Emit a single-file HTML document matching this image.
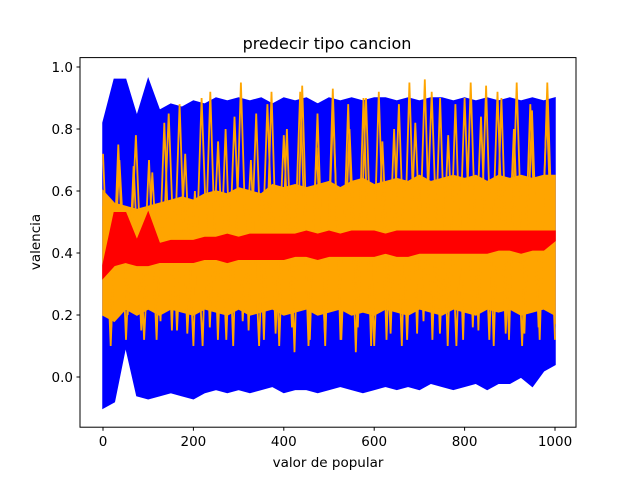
<!DOCTYPE html>
<html><head><meta charset="utf-8"><style>
body{margin:0;background:#fff}
svg{display:block;font-family:"DejaVu Sans","Liberation Sans",sans-serif}
</style></head><body>
<svg id="chart" width="640" height="480">
<rect width="640" height="480" fill="#fff"/>
<text x="327" y="49" font-size="16" text-anchor="middle">predecir tipo cancion</text>
<g id="series"></g>
<rect x="80" y="57.6" width="496" height="369.6" fill="none" stroke="#000" stroke-width="1"/>
<g id="xt"></g>
<g id="yt"></g>
<text x="328" y="467" font-size="13.5" text-anchor="middle">valor de popular</text>
<text x="40" y="242" font-size="13.5" text-anchor="middle" transform="rotate(-90 40 242)">valencia</text>
</svg>
<script>
const xTicks=[0,200,400,600,800,1000];
const yTicks=[0.0,0.2,0.4,0.6,0.8,1.0];
const blueHigh=[0.82,0.96,0.96,0.84,0.96,0.86,0.88,0.87,0.89,0.88,0.90,0.89,0.90,0.89,0.90,0.88,0.90,0.89,0.90,0.88,0.90,0.89,0.90,0.89,0.90,0.90,0.89,0.90,0.89,0.90,0.90,0.89,0.90,0.89,0.90,0.89,0.90,0.89,0.90,0.89,0.90];
const blueLow=[-0.10,-0.08,0.10,-0.06,-0.07,-0.06,-0.05,-0.06,-0.07,-0.05,-0.04,-0.05,-0.04,-0.05,-0.04,-0.03,-0.05,-0.04,-0.04,-0.05,-0.04,-0.03,-0.04,-0.05,-0.04,-0.03,-0.04,-0.03,-0.04,-0.02,-0.03,-0.04,-0.03,-0.02,-0.04,-0.02,-0.02,0.00,-0.03,0.02,0.04];
const orangeHigh=[0.60,0.56,0.55,0.54,0.55,0.56,0.57,0.58,0.57,0.59,0.60,0.59,0.61,0.60,0.59,0.62,0.61,0.62,0.61,0.62,0.63,0.61,0.63,0.64,0.62,0.63,0.64,0.63,0.65,0.63,0.64,0.65,0.64,0.65,0.63,0.65,0.64,0.65,0.64,0.65,0.65];
const orangeLow=[0.20,0.18,0.22,0.20,0.22,0.20,0.22,0.21,0.20,0.22,0.21,0.20,0.22,0.20,0.21,0.22,0.20,0.21,0.22,0.20,0.21,0.22,0.20,0.21,0.20,0.22,0.21,0.20,0.22,0.21,0.20,0.22,0.21,0.20,0.22,0.21,0.22,0.20,0.21,0.22,0.20];
const orangeSpikes=[0.72,0.10,0.75,0.12,0.68,0.15,0.70,0.12,0.82,0.15,0.88,0.14,0.60,0.10,0.92,0.12,0.80,0.10,0.95,0.15,0.85,0.12,0.92,0.10,0.80,0.08,0.94,0.12,0.85,0.10,0.93,0.12,0.88,0.08,0.90,0.10,0.92,0.12,0.80,0.10,0.95,0.14,0.96,0.12,0.90,0.10,0.88,0.12,0.95,0.15,0.94,0.10,0.90,0.12,0.95,0.14,0.86,0.12,0.95,0.17];
const orangeSpikes2=[0.55,0.16,0.70,0.20,0.78,0.12,0.66,0.18,0.85,0.15,0.72,0.10,0.90,0.16,0.76,0.12,0.84,0.18,0.70,0.10,0.88,0.14,0.78,0.16,0.92,0.10,0.74,0.14,0.86,0.12,0.80,0.16,0.90,0.10,0.76,0.14,0.88,0.12,0.82,0.18,0.92,0.14,0.78,0.10,0.90,0.16,0.84,0.12,0.92,0.14,0.80,0.10,0.88,0.16,0.86,0.12];
const redHigh=[0.36,0.53,0.53,0.44,0.53,0.43,0.44,0.44,0.44,0.45,0.45,0.46,0.45,0.46,0.46,0.46,0.46,0.46,0.47,0.46,0.47,0.46,0.47,0.47,0.47,0.46,0.47,0.47,0.47,0.47,0.47,0.47,0.47,0.47,0.47,0.47,0.47,0.47,0.47,0.47,0.47];
const redLow=[0.32,0.36,0.37,0.36,0.36,0.37,0.37,0.37,0.37,0.38,0.38,0.37,0.38,0.38,0.38,0.38,0.38,0.39,0.39,0.38,0.39,0.39,0.39,0.39,0.39,0.40,0.39,0.39,0.40,0.40,0.40,0.40,0.40,0.40,0.40,0.41,0.41,0.40,0.41,0.41,0.44];
const X=v=>103+v*0.452;
const Y=v=>377-v*310;
const NS='http://www.w3.org/2000/svg';
const g=document.getElementById('series');
const xs=n=>Array.from({length:n},(_,i)=>i*1000/(n-1));
function band(hi,lo,color,name){
  const xh=xs(hi.length),xl=xs(lo.length);
  const pts=hi.map((v,i)=>X(xh[i]).toFixed(1)+','+Y(v).toFixed(1)).concat(lo.map((v,i)=>X(xl[i]).toFixed(1)+','+Y(v).toFixed(1)).reverse());
  const p=document.createElementNS(NS,'polygon');
  p.setAttribute('points',pts.join(' '));
  p.setAttribute('fill',color);p.setAttribute('stroke',color);p.setAttribute('stroke-width',1.5);
  
  
  g.appendChild(p);
}
function line(vals,color,w,name){
  const x=xs(vals.length);
  const p=document.createElementNS(NS,'polyline');
  p.setAttribute('points',vals.map((v,i)=>X(x[i]).toFixed(1)+','+Y(v).toFixed(1)).join(' '));
  p.setAttribute('fill','none');p.setAttribute('stroke',color);p.setAttribute('stroke-width',w);
  
  
  g.appendChild(p);
}
band(blueHigh,blueLow,'#0000ff','blue-series');
band(orangeHigh,orangeLow,'#ffa500','orange-series');
line(orangeSpikes,'#ffa500',1.8,'orange-spikes');
line(orangeSpikes2,'#ffa500',1.8,'orange-spikes-secondary');
band(redHigh,redLow,'#ff0000','red-series');
const xt=document.getElementById('xt');
xTicks.forEach(t=>{
  const e=document.createElementNS(NS,'g');
  
  
  e.innerHTML=`<line x1="${X(t)}" x2="${X(t)}" y1="427.2" y2="430.7" stroke="#000"/><text x="${X(t)}" y="446" font-size="13.5" text-anchor="middle">${t}</text>`;
  xt.appendChild(e);
});
const yt=document.getElementById('yt');
yTicks.forEach(t=>{
  const e=document.createElementNS(NS,'g');
  
  
  e.innerHTML=`<line x1="76.5" x2="80" y1="${Y(t)}" y2="${Y(t)}" stroke="#000"/><text x="73" y="${Y(t)+5}" font-size="13.5" text-anchor="end">${t.toFixed(1)}</text>`;
  yt.appendChild(e);
});
</script>
</body></html>
